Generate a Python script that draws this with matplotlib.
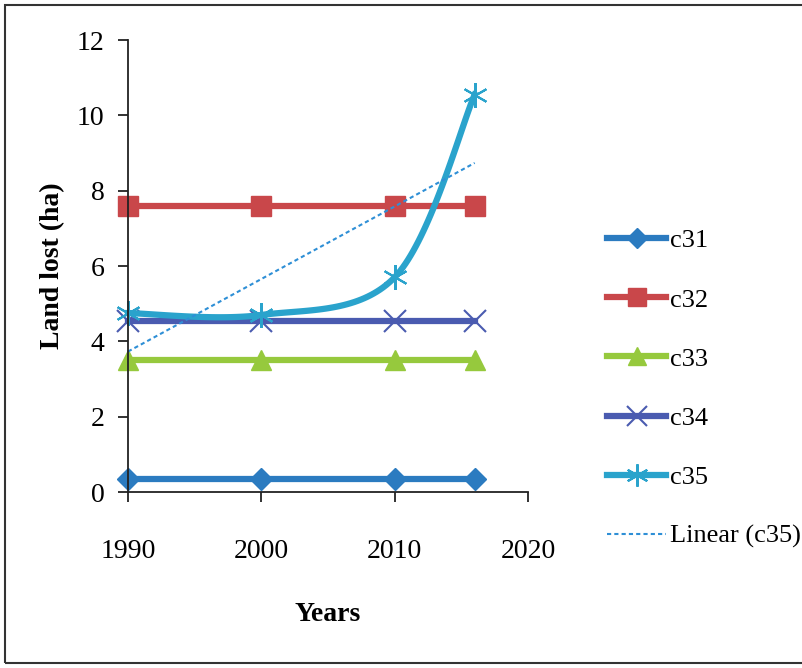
import numpy as np
import matplotlib.pyplot as plt
from matplotlib.patches import Rectangle

plt.rcParams['font.family'] = ['Liberation Serif', 'DejaVu Serif']

years = [1990, 2000, 2010, 2016]
c31 = [0.35, 0.35, 0.35, 0.35]
c32 = [7.6, 7.6, 7.6, 7.6]
c33 = [3.5, 3.5, 3.5, 3.5]
c34 = [4.55, 4.55, 4.55, 4.55]
c35 = [4.75, 4.7, 5.7, 10.55]


def smooth(x, y, n=40):
    # bezier smoothing like the spreadsheet "smoothed line" option
    x = np.asarray(x, float)
    y = np.asarray(y, float)
    px = np.concatenate([[x[0]], x, [x[-1]]])
    py = np.concatenate([[y[0]], y, [y[-1]]])
    t = np.linspace(0, 1, n)
    xs, ys = [], []
    for i in range(1, len(px) - 2):
        p0 = np.array([px[i], py[i]])
        p3 = np.array([px[i + 1], py[i + 1]])
        p1 = p0 + (p3 - np.array([px[i - 1], py[i - 1]])) / 6
        p2 = p3 - (np.array([px[i + 2], py[i + 2]]) - p0) / 6
        b = ((1 - t) ** 3)[:, None] * p0 + (3 * (1 - t) ** 2 * t)[:, None] * p1 \
            + (3 * (1 - t) * t ** 2)[:, None] * p2 + (t ** 3)[:, None] * p3
        xs.extend(b[:, 0])
        ys.extend(b[:, 1])
    return xs, ys


fig = plt.figure(figsize=(8.03, 6.68), dpi=100)
ax = fig.add_axes([128 / 803, 1 - 492 / 668, 400 / 803, 452 / 668])

lw = 4.5
ax.plot(years, c31, color='#2b7bc0', lw=lw, marker='D', ms=11, label='c31')
ax.plot(years, c32, color='#c9474a', lw=lw, marker='s', ms=15, label='c32')
ax.plot(years, c33, color='#96c93d', lw=lw, marker='^', ms=14, label='c33')
ax.plot(years, c34, color='#4a5bb0', lw=lw, marker='x', ms=16, mew=1.5, label='c34')
sx, sy = smooth(years, c35)
ax.plot(sx, sy, color='#2aa3cc', lw=lw)
ax.plot(years, c35, ls='none', color='#2aa3cc', marker=(6, 2, 0), ms=18, mew=1.5)
ax.plot([], [], color='#2aa3cc', lw=lw, marker=(6, 2, 0), ms=18, mew=1.5, label='c35')

k, b = np.polyfit(years, c35, 1)
tx = np.array([years[0], years[-1]])
ax.plot(tx, k * tx + b, color='#2e8fd6', lw=1.5, ls=(0, (2, 1.5)), label='Linear (c35)')

ax.set_xlim(1990, 2020)
ax.set_ylim(0, 12)
ax.set_xticks([1990, 2000, 2010, 2020])
ax.set_yticks(range(0, 13, 2))
ax.spines['top'].set_visible(False)
ax.spines['right'].set_visible(False)
for s in ('left', 'bottom'):
    ax.spines[s].set_linewidth(1.3)
    ax.spines[s].set_color('#222222')
ax.tick_params(labelsize=20, length=7, width=1.3, color='#222222', direction='out')
ax.tick_params(axis='x', pad=27)
ax.tick_params(axis='y', pad=10)
for line in ax.lines:
    line.set_clip_on(False)

ax.set_xlabel('Years', fontsize=20, fontweight='bold', labelpad=27)
ax.set_ylabel('Land lost (ha)', fontsize=20, fontweight='bold', labelpad=8)

leg = ax.legend(loc='upper left', bbox_to_anchor=(607 / 803, 1 - 229 / 668),
                bbox_transform=fig.transFigure, frameon=False, fontsize=19,
                borderpad=0, borderaxespad=0,
                handlelength=2.25, handletextpad=0.12, labelspacing=1.35,
                markerscale=0.9)

fig.patches.append(Rectangle((5 / 803, 5 / 668), 1.0, 1 - 10 / 668,
                             transform=fig.transFigure, fill=False,
                             edgecolor='#333333', lw=1.5))

fig.savefig('out.png', dpi=100)
